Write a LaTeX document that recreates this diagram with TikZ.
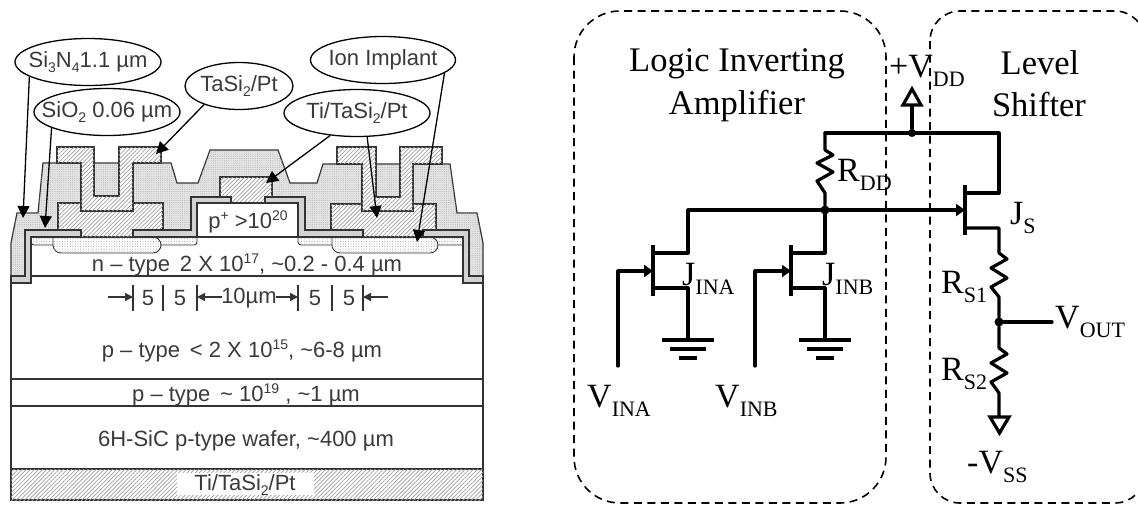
\documentclass[tikz,border=0pt]{standalone}
\usepackage{fontspec}
\setmainfont{Liberation Serif}
\newfontfamily\arialf{Liberation Sans}
\usetikzlibrary{shapes.geometric,patterns.meta,arrows.meta}
\newcommand{\sm}[3]{{\fontsize{#1}{#1}\selectfont\raisebox{#2pt}{#3}}}
\newcommand{\Sb}[1]{\sm{22}{-9}{#1}}
\newcommand{\As}[1]{\sm{14}{-5}{#1}}
\newcommand{\Au}[1]{\sm{14}{8}{#1}}
\newcommand{\Ct}[1]{\makebox[0pt]{#1}}
\definecolor{ink}{HTML}{333333}
\definecolor{txt}{HTML}{3A3A3A}
\tikzset{
  x=1pt,y=-1pt,
  outl/.style={draw=ink,line width=1.2pt,line join=miter},
  nitride/.style={outl,fill=gray!22,postaction={pattern={Dots[distance=2.2pt,radius=.42pt]},pattern color=gray!70}},
  oxide/.style={outl,fill=gray!35},
  metal/.style={outl,fill=white,postaction={pattern={Lines[angle=45,distance=2.9pt,line width=.7pt]},pattern color=gray!75}},
  implant/.style={outl,line width=.9pt,fill=white,postaction={pattern={Dots[distance=2.6pt,radius=.55pt]},pattern color=gray!70}},
  layer/.style={draw=ink,line width=1.3pt,fill=white},
  lab/.style={inner sep=0pt,text=txt,font=\arialf\fontsize{22}{24}\selectfont},
  callout/.style={ellipse,draw=black,line width=1.3pt,fill=white,inner sep=0pt,minimum height=47pt,text=txt,font=\arialf\fontsize{22}{24}\selectfont},
  leader/.style={draw=black,line width=1.3pt,-{Triangle[length=12pt,width=12pt]}},
  dim/.style={draw=ink,line width=1.3pt,-{Triangle[length=8pt,width=8pt]}},
  tick/.style={draw=ink,line width=1.3pt},
  wire/.style={draw=black,line width=3.2pt,line cap=round,line join=round},
  gatewire/.style={wire,-{Triangle[length=9pt,width=12pt]}},
  gnd/.style={draw=black,line width=3.2pt},
  supply/.style={draw=black,line width=3.2pt,fill=white,line join=miter},
  zone/.style={draw=black,line width=1.6pt,dash pattern=on 8pt off 5.5pt},
  ser/.style={inner sep=0pt,anchor=base west,font=\fontsize{34}{34}\selectfont},
  title/.style={inner sep=0pt,font=\fontsize{34.5}{40}\selectfont,anchor=base},
  dotn/.style={circle,fill=black,inner sep=0pt,minimum size=9pt}
}
\begin{document}
\begin{tikzpicture}
\useasboundingbox (0,0) rectangle (1138,504);
\clip (0,0) rectangle (1138,504);
% ---------- wafer layers
\path[layer] (11,276) rectangle (483,379);
\path[layer] (11,379) rectangle (483,406);
\path[layer] (11,406) rectangle (483,469);
\path[metal] (11,469) rectangle (483,500);
\node[fill=white,minimum width=137pt,minimum height=22pt,inner sep=0pt] (backbox) at (245,484) {};
\node[lab] (backm) at (245,485) {Ti/TaSi\As{2}/Pt};
\path[layer] (31,237) rectangle (463,276);
% ---------- nitride
\path[nitride] (11,276) -- (11,243) -- (17,213) -- (38,213) -- (43,163) -- (171,163) -- (177,183) -- (198,183) -- (210,150) -- (278,150) -- (290,183) -- (317,183) -- (323,164) -- (450,164) -- (457,213) -- (477,213) -- (483,243) -- (483,276) -- (463,276) -- (463,237) -- (31,237) -- (31,276) -- cycle;
% ---------- thin implants
\path[implant] (31,237) -- (197,237) -- (197,240) [rounded corners=3pt] -- (197,245) -- (31,245) [sharp corners] -- cycle;
\path[implant] (298,237) -- (463,237) -- (463,245) [rounded corners=3pt] -- (298,245) -- (298,237) [sharp corners] -- cycle;
\path[implant,rounded corners=8pt] (53,237) -- (53,253) -- (161,253) -- (161,237) [sharp corners] -- cycle;
\path[implant,rounded corners=8pt] (332,237) -- (332,253) -- (438,253) -- (438,237) [sharp corners] -- cycle;
% ---------- metal
\path[metal] (58,203) -- (163,203) -- (163,230) -- (133,230) -- (133,237) -- (81,237) -- (81,230) -- (58,230) -- cycle;
\path[metal] (331,204) -- (436,204) -- (436,230) -- (423,230) -- (423,237) -- (363,237) -- (363,230) -- (331,230) -- cycle;
\path[metal] (220,177) -- (272,177) -- (272,204) -- (220,204) -- cycle;
\path[metal] (57,147) -- (94,147) -- (94,196) -- (119,196) -- (119,147) -- (161,147) -- (161,163) -- (133,163) -- (133,211) -- (81,211) -- (81,163) -- (57,163) -- cycle;
\path[metal] (337,147) -- (376,147) -- (376,197) -- (400,197) -- (400,147) -- (442,147) -- (442,164) -- (413,164) -- (413,211) -- (362,211) -- (362,164) -- (337,164) -- cycle;
% ---------- oxide
\path[oxide] (11,276) -- (25,276) -- (25,230) -- (81,230) -- (81,237) -- (31,237) -- (31,283) -- (11,283) -- cycle;
\path[oxide] (133,230) -- (191,230) -- (191,197) -- (231,197) -- (231,203) -- (197,203) -- (197,237) -- (133,237) -- cycle;
\path[oxide] (265,197) -- (305,197) -- (305,230) -- (363,230) -- (363,237) -- (298,237) -- (298,203) -- (265,203) -- cycle;
\path[oxide] (423,230) -- (469,230) -- (469,276) -- (483,276) -- (483,283) -- (463,283) -- (463,237) -- (423,237) -- cycle;
\path[draw=ink,line width=1.2pt,fill=white] (197,203) rectangle (298,237);
% ---------- layer labels
\node[lab] (pplus) at (248,222) {p\Au{+} >10\Au{20}};
\node[lab] (ntype) at (247,265) {n – type\, 2 X 10\Au{17}, \textasciitilde0.2 - 0.4 µm};
\node[lab] (ptype) at (242,351) {p – type\, < 2 X 10\Au{15}, \textasciitilde6-8 µm};
\node[lab] (ptypeb) at (246,395) {p – type\, \textasciitilde\ 10\Au{19} , \textasciitilde1 µm};
\node[lab] (wafer) at (246,441) {6H-SiC p-type wafer, \textasciitilde400 µm};
% ---------- dimensions
\foreach \x in {133,163,197,298,332,363} \path[tick] (\x,285) -- (\x,311);
\coordinate (d1a) at (108,297); \coordinate (d1b) at (133,297);
\coordinate (d2a) at (222,297); \coordinate (d2b) at (197,297);
\coordinate (d3a) at (276,297); \coordinate (d3b) at (298,297);
\coordinate (d4a) at (388,297); \coordinate (d4b) at (363,297);
\path[dim] (d1a) -- (d1b);
\path[dim] (d2a) -- (d2b);
\path[dim] (d3a) -- (d3b);
\path[dim] (d4a) -- (d4b);
\node[lab] (n1) at (148,298) {5};
\node[lab] (n2) at (180,298) {5};
\node[lab] (n3) at (249,298) {10µm};
\node[lab] (n4) at (315,298) {5};
\node[lab] (n5) at (349,298) {5};
% ---------- callouts
\node[callout,minimum width=146pt] (csn) at (88,62) {\Ct{Si\As{3}N\As{4}1.1 µm}};
\node[callout,minimum width=146pt] (cso) at (107,112) {\Ct{SiO\As{2} 0.06 µm}};
\node[callout,minimum width=108pt] (cta) at (239,86) {\Ct{TaSi\As{2}/Pt}};
\node[callout,minimum width=146pt] (cti) at (357,113) {\Ct{Ti/TaSi\As{2}/Pt}};
\node[callout,minimum width=145pt] (cio) at (383,60) {\Ct{Ion Implant}};
\coordinate (tsn) at (23,218);
\coordinate (tso) at (45,228);
\coordinate (tta) at (156,154);
\coordinate (tga) at (266,183);
\coordinate (tti) at (377,218);
\coordinate (tio) at (417,242);
\path[leader] (csn.194) -- (tsn);
\path[leader] (cso.196) -- (tso);
\path[leader] (cta.208) -- (tta);
\path[leader] (cti.220) -- (tga);
\path[leader] (cti.293) -- (tti);
\path[leader] (cio.348) -- (tio);
% ---------- zones
\path[zone,rounded corners=46pt] (574,11) rectangle (886,503);
\path[zone,rounded corners=30pt] (930,11) rectangle (1145,503);
% ---------- circuit
\node[dotn,minimum size=8pt] (ntop) at (912,133) {};
\node[dotn] (nmid) at (825,210) {};
\node[dotn] (nout) at (999,322) {};
\coordinate (railL) at (825,133); \coordinate (railR) at (999,133);
\coordinate (da) at (688,253); \coordinate (sa) at (688,288);
\coordinate (db) at (825,253); \coordinate (sb) at (825,288);
\coordinate (ds) at (999,193); \coordinate (ss) at (999,228);
\coordinate (ga) at (653,271); \coordinate (gb) at (791,271); \coordinate (gs) at (965,210);
\coordinate (ia) at (618,366); \coordinate (ib) at (755,366);
\coordinate (ea) at (688,340); \coordinate (eb) at (825,340);
\coordinate (vo) at (1052,322);
\path[wire] (railL) -- (railR) -- (ds) -- (965,193);
\path[wire] (railL) -- (825,150) -- (833,155) -- (817,163) -- (833,172) -- (817,181) -- (825,193) -- (nmid);
\path[wire] (nmid) -- (688,210) -- (da) -- (653,253);
\path[gatewire] (nmid) -- (gs);
\path[wire] (nmid) -- (db) -- (791,253);
\path[wire] (653,288) -- (sa) -- (ea);
\path[wire] (791,288) -- (sb) -- (eb);
\path[wire] (965,228) -- (ss) -- (999,253) -- (1007,259) -- (991,268) -- (1007,278) -- (991,287) -- (999,297) -- (nout);
\path[wire] (nout) -- (999,348) -- (1007,354) -- (991,363) -- (1007,373) -- (991,382) -- (999,393) -- (999,417);
\path[wire] (nout) -- (vo);
\path[gatewire] (ia) -- (618,271) -- (ga);
\path[gatewire] (ib) -- (755,271) -- (gb);
% gate bars
\path[gnd] (653,245) -- (653,296);
\path[gnd] (791,245) -- (791,296);
\path[gnd] (965,185) -- (965,235);
% grounds
\foreach \c in {ea,eb} {
  \path[gnd] ([xshift=-26pt]\c) -- ([xshift=26pt]\c);
  \path[gnd] ([xshift=-18pt,yshift=-9pt]\c) -- ([xshift=18pt,yshift=-9pt]\c);
  \path[gnd] ([xshift=-9pt,yshift=-18pt]\c) -- ([xshift=9pt,yshift=-18pt]\c);
}
% supplies
\path[wire] (ntop) -- (912,106);
\path[supply] (903,105) -- (921,105) -- (912,89) -- cycle;
\path[supply] (990,417) -- (1009,417) -- (999.5,433) -- cycle;
% ---------- circuit labels
\node[title] (t1) at (737,71) {Logic Inverting};
\node[title] (t2) at (737,114) {Amplifier};
\node[title] (t3) at (1040,74) {Level};
\node[title] (t4) at (1039,116) {Shifter};
\node[ser] (lvdd) at (889,77) {+V\Sb{DD}};
\node[ser] (lrdd) at (837,181) {R\Sb{DD}};
\node[ser] (lja) at (682,285) {J\Sb{INA}};
\node[ser] (ljb) at (822,285) {J\Sb{INB}};
\node[ser] (lva) at (587,407) {V\Sb{INA}};
\node[ser] (lvb) at (715,407) {V\Sb{INB}};
\node[ser] (ljs) at (1010,224) {J\Sb{S}};
\node[ser] (lr1) at (941,293) {R\Sb{S1}};
\node[ser] (lr2) at (941,380) {R\Sb{S2}};
\node[ser] (lvo) at (1055,328) {V\Sb{OUT}};
\node[ser] (lvs) at (967,473) {-V\Sb{SS}};
\end{tikzpicture}
\end{document}
